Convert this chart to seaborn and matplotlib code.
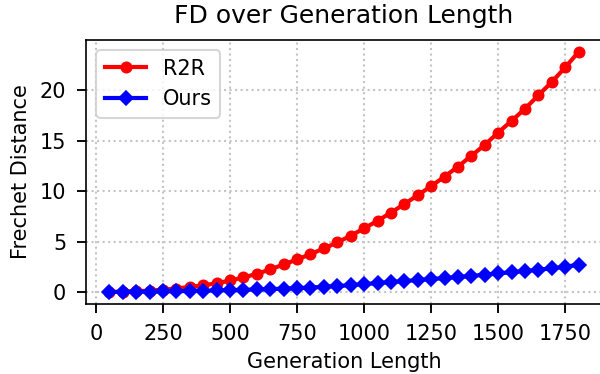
import matplotlib
matplotlib.use("Agg")
import matplotlib.pyplot as plt
import seaborn as sns
import pandas as pd

gen_length = [50, 100, 150, 200, 250, 300, 350, 400, 450, 500, 550, 600,
              650, 700, 750, 800, 850, 900, 950, 1000, 1050, 1100, 1150, 1200,
              1250, 1300, 1350, 1400, 1450, 1500, 1550, 1600, 1650, 1700, 1750, 1800]
r2r = [0.02, 0.05, 0.10, 0.15, 0.25, 0.36, 0.53, 0.69, 0.88, 1.16, 1.46, 1.82,
       2.25, 2.75, 3.24, 3.77, 4.33, 4.93, 5.59, 6.32, 7.07, 7.87, 8.73, 9.59,
       10.5, 11.44, 12.43, 13.5, 14.58, 15.8, 16.96, 18.15, 19.5, 20.8, 22.25, 23.78]
ours = [0.02, 0.03, 0.05, 0.06, 0.08, 0.10, 0.12, 0.15, 0.17, 0.20, 0.23, 0.27,
        0.30, 0.35, 0.40, 0.46, 0.53, 0.61, 0.70, 0.80, 0.90, 1.00, 1.10, 1.20,
        1.30, 1.40, 1.50, 1.61, 1.73, 1.86, 1.98, 2.10, 2.22, 2.36, 2.52, 2.72]

df = pd.DataFrame({"len": gen_length, "R2R": r2r, "Ours": ours})

fig = plt.figure(figsize=(4, 374 / 150), dpi=150)
ax = fig.add_axes([86 / 600, 1 - 304 / 374, (602 - 86) / 600, (304 - 40) / 374])

sns.lineplot(data=df, x="len", y="R2R", ax=ax, color="red", marker="o",
             markersize=5, markeredgecolor="red", linewidth=2, label="R2R")
sns.lineplot(data=df, x="len", y="Ours", ax=ax, color="blue", marker="D",
             markersize=5, markeredgecolor="blue", linewidth=2, label="Ours")

ax.set_title("FD over Generation Length", fontsize=12, pad=8)
ax.set_xlabel("Generation Length", fontsize=10)
ax.set_ylabel("Frechet Distance", fontsize=10)
ax.set_xticks([0, 250, 500, 750, 1000, 1250, 1500, 1750])
ax.set_yticks([0, 5, 10, 15, 20])
ax.tick_params(length=4.5, pad=5, width=0.9)
ax.grid(True, linestyle=":", color="#c4c4c4", linewidth=1.0)
ax.legend(loc="upper left", fontsize=10)

fig.savefig("out.png", dpi=150)
